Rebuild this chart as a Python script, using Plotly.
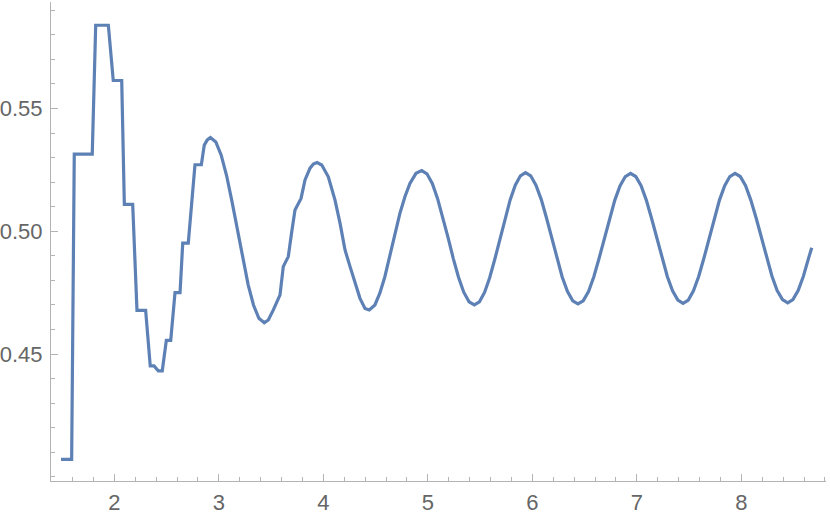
import plotly.graph_objects as go

# Stepped start
step_x = [1.490, 1.592, 1.617, 1.789, 1.822, 1.943, 1.990, 2.071, 2.096, 2.176,
          2.217, 2.300, 2.344, 2.380, 2.421, 2.459, 2.498, 2.540, 2.581, 2.629,
          2.655, 2.708, 2.772, 2.833]
step_y = [0.4071, 0.4071, 0.5314, 0.5314, 0.5839, 0.5839, 0.5614, 0.5614, 0.5110, 0.5110,
          0.4678, 0.4678, 0.4452, 0.4452, 0.4432, 0.4432, 0.4556, 0.4556, 0.4750, 0.4750,
          0.4952, 0.4952, 0.5271, 0.5271]

# Oscillating part
wave_x = [2.861, 2.890, 2.920, 2.9715, 3.023, 3.0745, 3.126, 3.1775, 3.229, 3.2805,
          3.332, 3.3835, 3.435, 3.474, 3.522, 3.586, 3.617, 3.665, 3.696, 3.729,
          3.787, 3.825, 3.873, 3.905, 3.940, 3.985, 4.048, 4.112, 4.160, 4.208,
          4.256, 4.304, 4.351, 4.399, 4.440, 4.494, 4.541, 4.589, 4.637, 4.685,
          4.733, 4.781, 4.829, 4.887, 4.942,
          4.992, 5.043, 5.093, 5.143, 5.194, 5.244, 5.294, 5.344, 5.395, 5.445,
          5.494, 5.543, 5.592, 5.641, 5.690, 5.739, 5.788, 5.837, 5.886, 5.935,
          5.985, 6.035, 6.086, 6.136, 6.186, 6.236, 6.286, 6.337, 6.387, 6.437,
          6.487, 6.538, 6.588, 6.638, 6.689, 6.739, 6.789, 6.839, 6.890, 6.940,
          6.990, 7.041, 7.091, 7.141, 7.192, 7.242, 7.292, 7.342, 7.393, 7.443,
          7.493, 7.542, 7.592, 7.642, 7.692, 7.741, 7.791, 7.841, 7.890, 7.940,
          7.990, 8.041, 8.091, 8.142, 8.192, 8.242, 8.293, 8.343, 8.394, 8.444,
          8.494, 8.544, 8.594, 8.644, 8.674]
wave_y = [0.5351, 0.5372, 0.5382, 0.5364, 0.5310, 0.5227, 0.5122, 0.5005, 0.4889, 0.4783,
          0.4700, 0.4646, 0.4628, 0.4639, 0.4680, 0.4741, 0.4856, 0.4897, 0.4992, 0.5087,
          0.5134, 0.5209, 0.5257, 0.5274, 0.5280, 0.5270, 0.5222, 0.5127, 0.5033, 0.4924,
          0.4856, 0.4788, 0.4727, 0.4686, 0.4680, 0.4700, 0.4748, 0.4815, 0.4897, 0.4992,
          0.5073, 0.5141, 0.5195, 0.5236, 0.5247,
          0.5234, 0.5195, 0.5134, 0.5058, 0.4974, 0.4889, 0.4813, 0.4752, 0.4713, 0.4700,
          0.4713, 0.4751, 0.4811, 0.4886, 0.4970, 0.5053, 0.5128, 0.5188, 0.5226, 0.5239,
          0.5226, 0.5188, 0.5129, 0.5054, 0.4972, 0.4889, 0.4814, 0.4755, 0.4717, 0.4704,
          0.4717, 0.4755, 0.4814, 0.4888, 0.4970, 0.5052, 0.5126, 0.5185, 0.5223, 0.5236,
          0.5223, 0.5186, 0.5127, 0.5053, 0.4972, 0.4890, 0.4816, 0.4758, 0.4720, 0.4707,
          0.4720, 0.4758, 0.4816, 0.4890, 0.4972, 0.5053, 0.5127, 0.5186, 0.5223, 0.5236,
          0.5223, 0.5186, 0.5127, 0.5054, 0.4973, 0.4891, 0.4818, 0.4759, 0.4722, 0.4709,
          0.4722, 0.4759, 0.4817, 0.4891, 0.4933]

x_ticks = [2, 3, 4, 5, 6, 7, 8]
x_tick_labels = ["2", "3", "4", "5", "6", "7", "8"]
y_ticks = [0.45, 0.50, 0.55]
y_tick_labels = ["0.45", "0.50", "0.55"]
x_minor = [1.4, 1.6, 1.8, 2.2, 2.4, 2.6, 2.8, 3.2, 3.4, 3.6, 3.8, 4.2, 4.4, 4.6, 4.8,
           5.2, 5.4, 5.6, 5.8, 6.2, 6.4, 6.6, 6.8, 7.2, 7.4, 7.6, 7.8, 8.2, 8.4, 8.6, 8.8]
y_minor = [0.40, 0.41, 0.42, 0.43, 0.44, 0.46, 0.47, 0.48, 0.49, 0.51, 0.52, 0.53,
           0.54, 0.56, 0.57, 0.58, 0.59]

LINE = "#5e81b5"
AXIS = "#b3b3b3"
TEXT = "#666666"

fig = go.Figure()
fig.add_trace(go.Scatter(
    x=step_x + wave_x, y=step_y + wave_y, mode="lines",
    line=dict(color=LINE, width=3.2), hoverinfo="skip", showlegend=False,
))

fig.update_layout(
    width=830, height=519,
    margin=dict(l=51, r=4, t=2, b=38, pad=0, autoexpand=False),
    paper_bgcolor="white", plot_bgcolor="white",
    font=dict(family="Liberation Sans, Arial, sans-serif", size=22, color=TEXT),
    xaxis=dict(
        range=[1.3943, 8.8105], showgrid=False, zeroline=False, automargin=False,
        showline=True, linecolor=AXIS, linewidth=1,
        tickmode="array", tickvals=x_ticks, ticktext=x_tick_labels,
        ticks="inside", ticklen=7, tickcolor=AXIS, tickwidth=1,
        ticklabelstandoff=2,
        minor=dict(tickmode="array", tickvals=x_minor, ticks="inside",
                   ticklen=4, tickcolor=AXIS, tickwidth=1, showgrid=False),
    ),
    yaxis=dict(
        range=[0.39833, 0.59336], showgrid=False, zeroline=False, automargin=False,
        showline=True, linecolor=AXIS, linewidth=1,
        tickmode="array", tickvals=y_ticks, ticktext=y_tick_labels,
        ticks="inside", ticklen=7, tickcolor=AXIS, tickwidth=1,
        ticklabelstandoff=3,
        minor=dict(tickmode="array", tickvals=y_minor, ticks="inside",
                   ticklen=4, tickcolor=AXIS, tickwidth=1, showgrid=False),
    ),
)

fig.write_html(
    "out.html",
    config={"displayModeBar": False},
    post_script="document.body.style.margin='0';document.body.style.overflow='hidden';",
)
